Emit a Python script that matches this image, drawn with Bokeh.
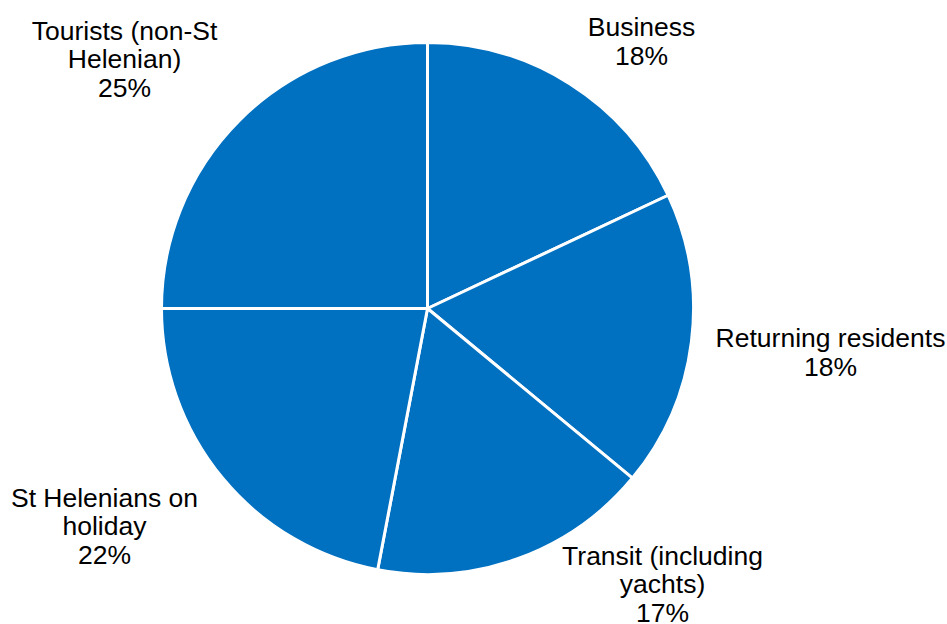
import math
from bokeh.plotting import figure
from bokeh.models import Range1d, ColumnDataSource
from bokeh.core.properties import value
from bokeh.embed import file_html
from bokeh.resources import INLINE

# ---- data ----
categories = ["Business", "Returning residents", "Transit (including\nyachts)",
              "St Helenians on\nholiday", "Tourists (non-St\nHelenian)"]
shares = [18, 18, 17, 22, 25]

# ---- layout ----
W, H = 947, 624
CX, CY = 427, 316          # pie centre in data units (y up)
R = 266
# label block centres as offsets (px) from pie centre
label_offsets = [(214, 267), (403, -44), (235, -276), (-323, -218), (-303, 249)]

p = figure(width=W, height=H, x_range=Range1d(0, W), y_range=Range1d(0, H),
           output_backend="svg", toolbar_location=None, min_border=0,
           outline_line_color=None)
p.axis.visible = False
p.grid.visible = False
p.background_fill_color = "white"
p.border_fill_color = "white"

total = sum(shares)
starts, ends = [], []
cum = 0.0
for s in shares:
    a0 = math.pi / 2 - 2 * math.pi * cum / total
    cum += s
    a1 = math.pi / 2 - 2 * math.pi * cum / total
    starts.append(a0)
    ends.append(a1)

src = ColumnDataSource(dict(x=[CX] * len(shares), y=[CY] * len(shares),
                            start=starts, end=ends))
p.wedge(x="x", y="y", radius=R, start_angle="start", end_angle="end",
        direction="clock", source=src, fill_color="#0070C0",
        line_color="white", line_width=3)

labels = [f"{c}\n{s}%" for c, s in zip(categories, shares)]
lsrc = ColumnDataSource(dict(x=[CX + dx for dx, dy in label_offsets],
                             y=[CY + dy for dx, dy in label_offsets],
                             text=labels))
p.text(x="x", y="y", text="text", source=lsrc, text_align="center",
       text_baseline="middle", text_font=value("Liberation Sans"),
       text_font_size="26.5px", text_color="black", text_line_height=0.96)

open("out.html", "w").write(file_html(p, INLINE))
